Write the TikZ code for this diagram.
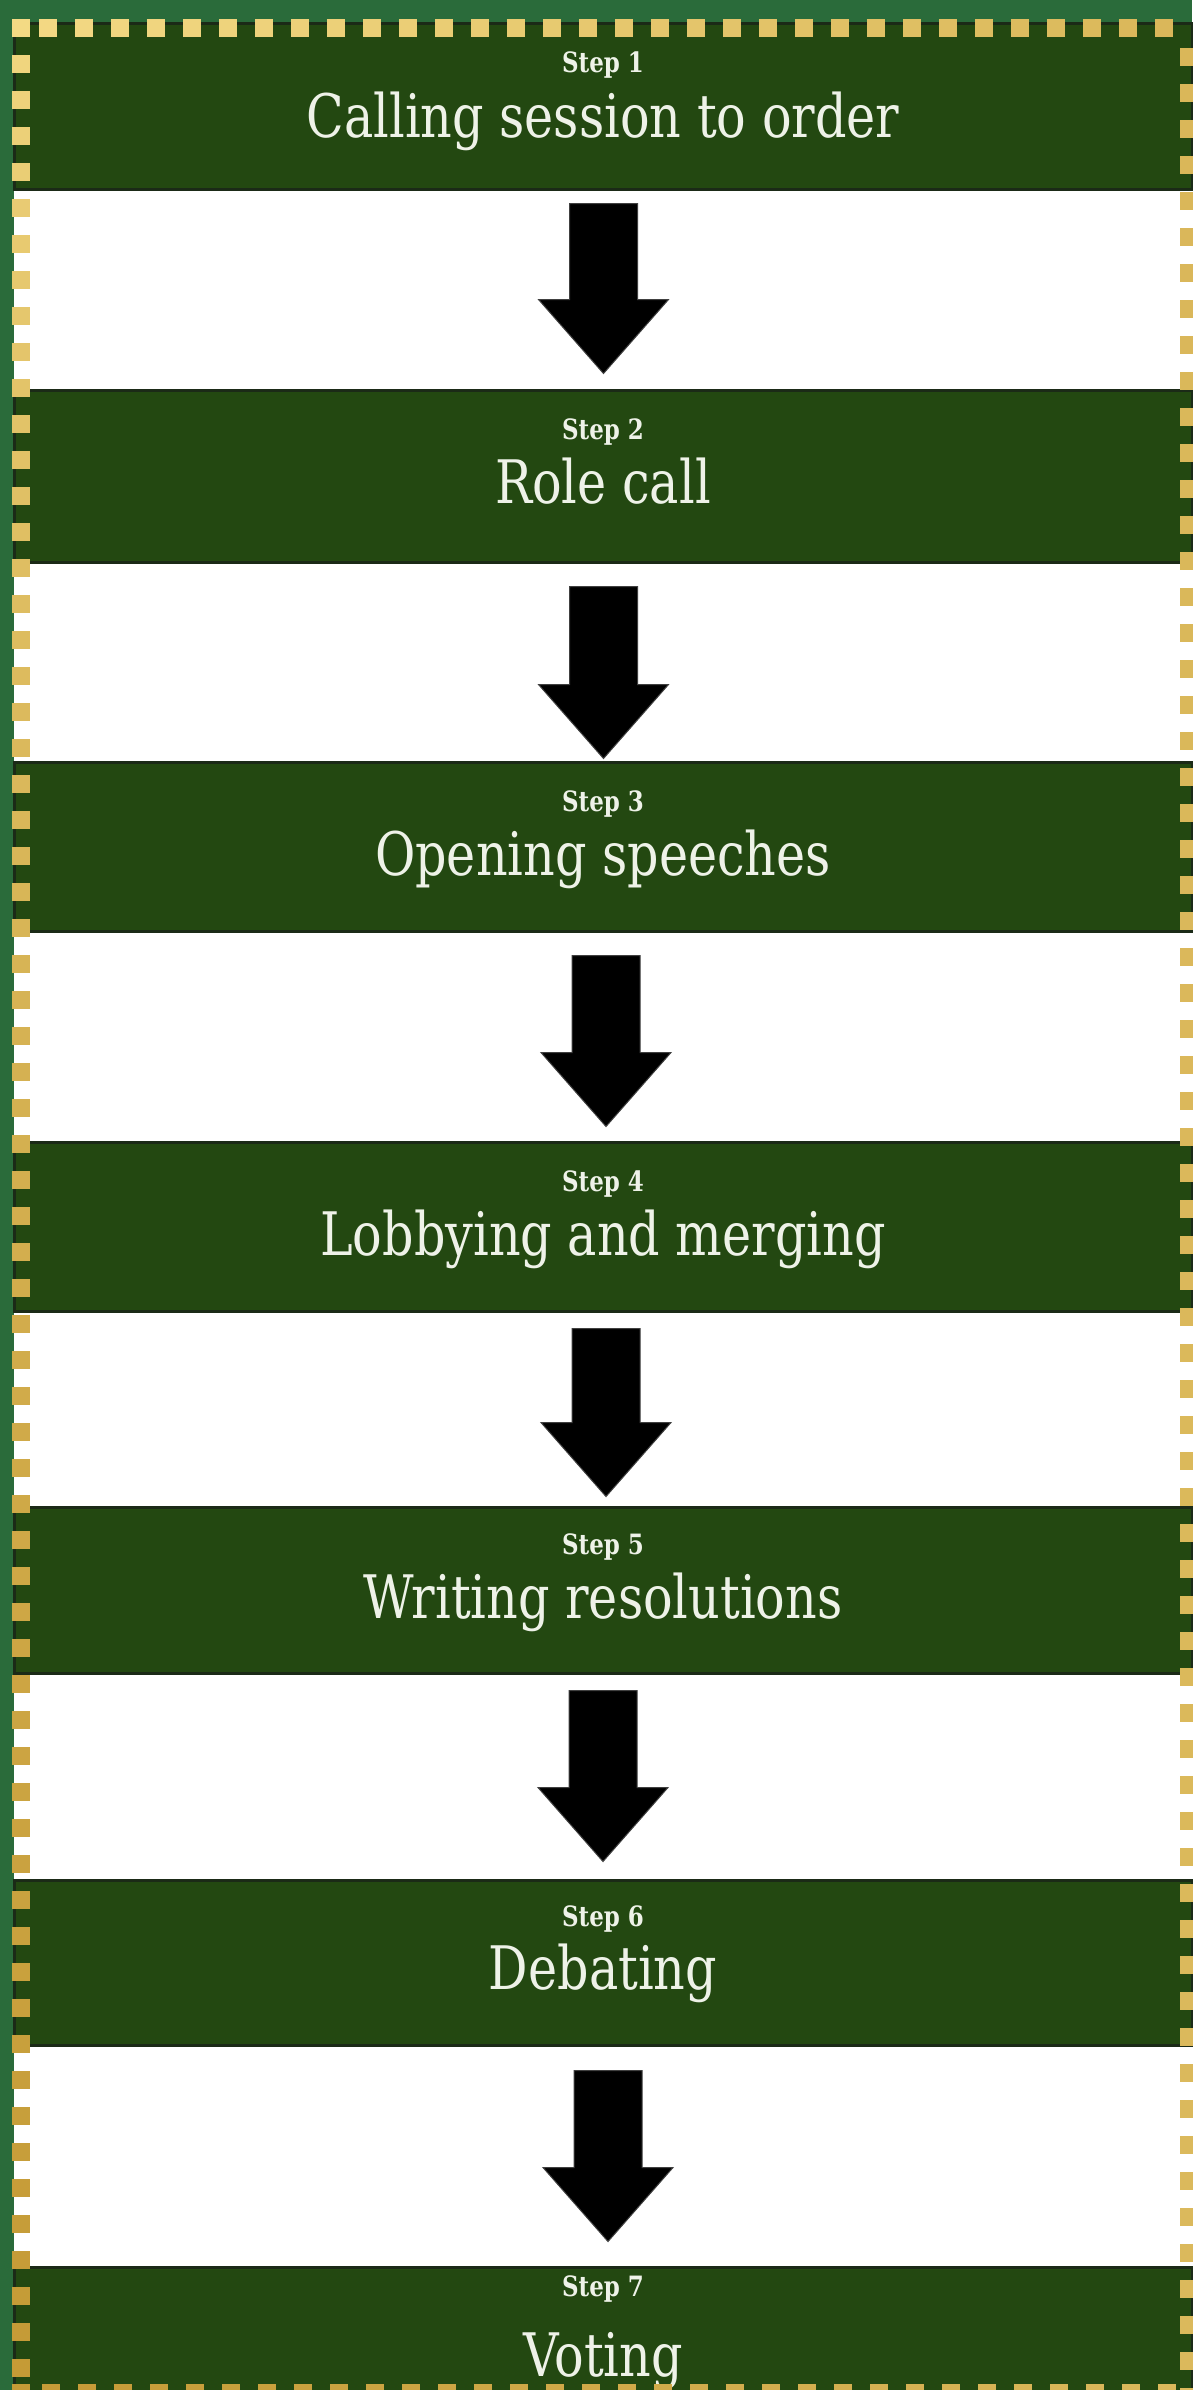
\documentclass[tikz,border=0pt]{standalone}
\usepackage{fontspec}
\setmainfont{DejaVu Serif}[FakeStretch=0.82]
\usetikzlibrary{calc}

\definecolor{outergreen}{HTML}{2A6B3A}
\definecolor{boxgreen}{HTML}{234811}
\definecolor{boxline}{HTML}{1B2A17}
\definecolor{dashlight}{HTML}{F8E08C}
\definecolor{dashdark}{HTML}{C49A35}
\definecolor{textwhite}{HTML}{EEF2E8}

% one square of the dashed frame, its colour shifts with its place
\newcommand{\borderdot}[2]{%
  \pgfmathsetmacro\bu{(#1)/1192}%
  \pgfmathsetmacro\bv{sqrt((#2)/2390)}%
  \pgfmathsetmacro\bp{100*((1-\bu)*\bv + \bu*(1-\bv)*0.6 + \bu*\bv*0.55)}%
  \fill[dashdark!\bp!dashlight] (#1,#2) rectangle ++(18,18);}

\begin{document}
\begin{tikzpicture}[x=1pt, y=-1pt,
    stepbox/.style={rectangle, fill=boxgreen, draw=boxline, line width=3pt, minimum width=1178pt, inner sep=0pt},
    steplabel/.style={anchor=base, text=textwhite, inner sep=0pt, font=\bfseries\fontsize{28}{32}\selectfont},
    steptitle/.style={anchor=base, text=textwhite, inner sep=0pt, font=\fontsize{60}{70}\selectfont},
    bigarrow/.style={fill=black, draw=black!75, line width=1pt}]
    \useasboundingbox (0,0) rectangle (1192,2390);
    \fill[outergreen] (0,0) rectangle (1192,2390);
    \fill[white] (14,22) rectangle (1192,2390);
    % the steps
    \foreach \i/\yc/\h/\so/\to/\title in {1/106.5/166/51/115/Calling session to order,
        2/476.5/172/50/114/Role call, 3/847/169/50/114/Opening speeches,
        4/1227/169/50/114/Lobbying and merging, 5/1590.5/166/48/112/Writing resolutions,
        6/1963/165/47/110/Debating, 7/2350.5/166/30/110/Voting}{
        \node[stepbox, minimum height=\h pt] (s\i) at (603,\yc) {};
        \node[steplabel] at ($(s\i.north)+(0,\so)$) {Step \i};
        \node[steptitle] at ($(s\i.north)+(0,\to)$) {\title};
    }
    % arrows between the steps
    \foreach \a/\b/\dx/\gapa/\gapb in {s1/s2/0.5/12.5/15.5, s2/s3/0.5/22.5/2.5, s3/s4/3/22.5/14.5,
        s4/s5/3/15.5/9.5, s5/s6/0/15.5/17.5, s6/s7/5/23.5/24.5}{
        \path[bigarrow] let \p1=($(\a.south)+(\dx,\gapa)$), \p2=($(\b.north)+(\dx,-\gapb)$) in
            (\x1-34pt,\y1) -- (\x1+34pt,\y1) -- (\x1+34pt,\y2+74pt) -- (\x1+65pt,\y2+74pt)
            -- (\x2,\y2) -- (\x1-65pt,\y2+74pt) -- (\x1-34pt,\y2+74pt) -- cycle;
    }
    % dashed frame
    \borderdot{12}{19}
    \foreach \k in {0,...,31}{\borderdot{39+36*\k}{19}}
    \foreach \k in {1,...,65}{\borderdot{12}{19+36*\k}}
    \foreach \k in {0,...,65}{\borderdot{1180}{48+36*\k}}
    \borderdot{12}{2384}
    \foreach \k in {0,...,31}{\borderdot{42+36*\k}{2384}}
\end{tikzpicture}
\end{document}
